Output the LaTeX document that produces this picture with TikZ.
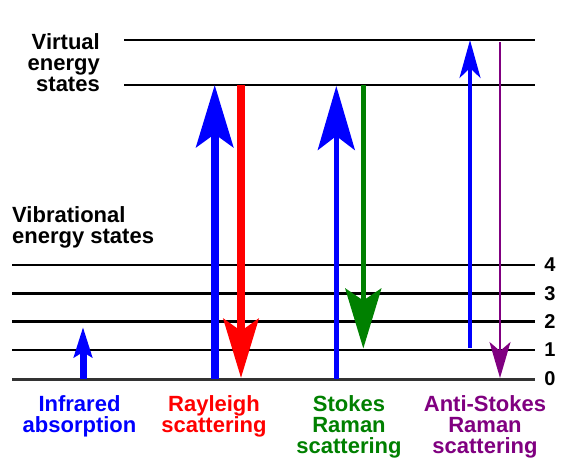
\documentclass[tikz,border=0pt]{standalone}
\usepackage{fontspec}
\setmainfont{Liberation Sans}
\usetikzlibrary{arrows.meta}
\definecolor{rblue}{HTML}{0000FF}
\definecolor{rred}{HTML}{FF0000}
\definecolor{rgreen}{HTML}{008000}
\definecolor{rpurple}{HTML}{800080}
\definecolor{zerogray}{HTML}{333333}
\begin{document}
\begin{tikzpicture}[x=1pt,y=-1pt,
  lbl/.style={font=\fontsize{22}{21}\selectfont\bfseries, inner sep=0pt, align=center},
  num/.style={font=\fontsize{20}{20}\selectfont\bfseries, inner sep=0pt},
  lvl/.style={line width=2.5pt, black},
  virt/.style={line width=2.5pt, black},
  bigup/.style={line width=8pt, -{Stealth[length=62pt, width=37pt, inset=13pt]}},
  bigdown/.style={line width=7.7pt, -{Stealth[length=59pt, width=35pt, inset=12pt]}},
  midup/.style={line width=5pt, -{Stealth[length=64pt, width=37pt, inset=14pt]}},
  middown/.style={line width=4.7pt, -{Stealth[length=60pt, width=36pt, inset=12pt]}},
  thinup/.style={line width=3.3pt, -{Stealth[length=38pt, width=21pt, inset=10pt]}},
  thindown/.style={line width=2pt, -{Stealth[length=36pt, width=21pt, inset=9pt]}},
  irarrow/.style={line width=7pt, -{Stealth[length=30pt, width=18pt, inset=5pt]}}
]
\useasboundingbox (0,0) rectangle (577,472);

% virtual levels
\coordinate (vaL) at (124,40);  \coordinate (vaR) at (535,40);
\coordinate (vbL) at (124,85);  \coordinate (vbR) at (535,85);
\draw[virt] (vaL) -- (vaR);
\draw[virt] (vbL) -- (vbR);

% vibrational levels
\coordinate (l4L) at (12,265);   \coordinate (l4R) at (535,265);
\coordinate (l3L) at (12,293.3); \coordinate (l3R) at (535,293.3);
\coordinate (l2L) at (12,321.7); \coordinate (l2R) at (535,321.7);
\coordinate (l1L) at (12,350);   \coordinate (l1R) at (535,350);
\coordinate (l0L) at (12,379.5); \coordinate (l0R) at (535,379.5);
\draw[lvl, line width=2pt] (l4L) -- (l4R);
\draw[lvl] (l3L) -- (l3R);
\draw[lvl, line width=2.8pt] (l2L) -- (l2R);
\draw[lvl, line width=2.6pt] (l1L) -- (l1R);
\draw[lvl, line width=3.5pt, zerogray] (l0L) -- (l0R);

% level numbers
\node[num] (n4) at (550,265) {4};
\node[num] (n3) at (550,293.3) {3};
\node[num] (n2) at (550,321.7) {2};
\node[num] (n1) at (550,350) {1};
\node[num] (n0) at (550,379) {0};

% infrared absorption
\coordinate (irB) at (83,379); \coordinate (irT) at (83,327);
\draw[irarrow, rblue] (irB) -- (irT);

% Rayleigh
\coordinate (ryB) at (214.7,379); \coordinate (ryT) at (214.7,85);
\draw[bigup, rblue] (ryB) -- (ryT);
\coordinate (rdT) at (241,85); \coordinate (rdB) at (241,378);
\draw[bigdown, rred] (rdT) -- (rdB);

% Stokes
\coordinate (suB) at (336.3,379); \coordinate (suT) at (336.3,86);
\draw[midup, rblue] (suB) -- (suT);
\coordinate (sdT) at (363.3,85); \coordinate (sdB) at (363.3,348.5);
\draw[middown, rgreen] (sdT) -- (sdB);

% Anti-Stokes
\coordinate (auB) at (470,348); \coordinate (auT) at (470,40);
\draw[thinup, rblue] (auB) -- (auT);
\coordinate (adT) at (500,42); \coordinate (adB) at (500,378);
\draw[thindown, rpurple] (adT) -- (adB);

% labels
\node[lbl, anchor=north east, align=right] (virtlbl) at (100,33) {Virtual\\energy\\states};
\node[lbl, anchor=north west, align=left] (viblbl) at (12,206) {Vibrational\\energy states};
\node[lbl, anchor=north, rblue] (irlbl) at (79.5,395) {Infrared\\absorption};
\node[lbl, anchor=north, rred] (rylbl) at (214,395) {Rayleigh\\scattering};
\node[lbl, anchor=north, rgreen] (stlbl) at (349,395) {Stokes\\Raman\\scattering};
\node[lbl, anchor=north, rpurple] (aslbl) at (485,395) {Anti-Stokes\\Raman\\scattering};
\end{tikzpicture}
\end{document}
